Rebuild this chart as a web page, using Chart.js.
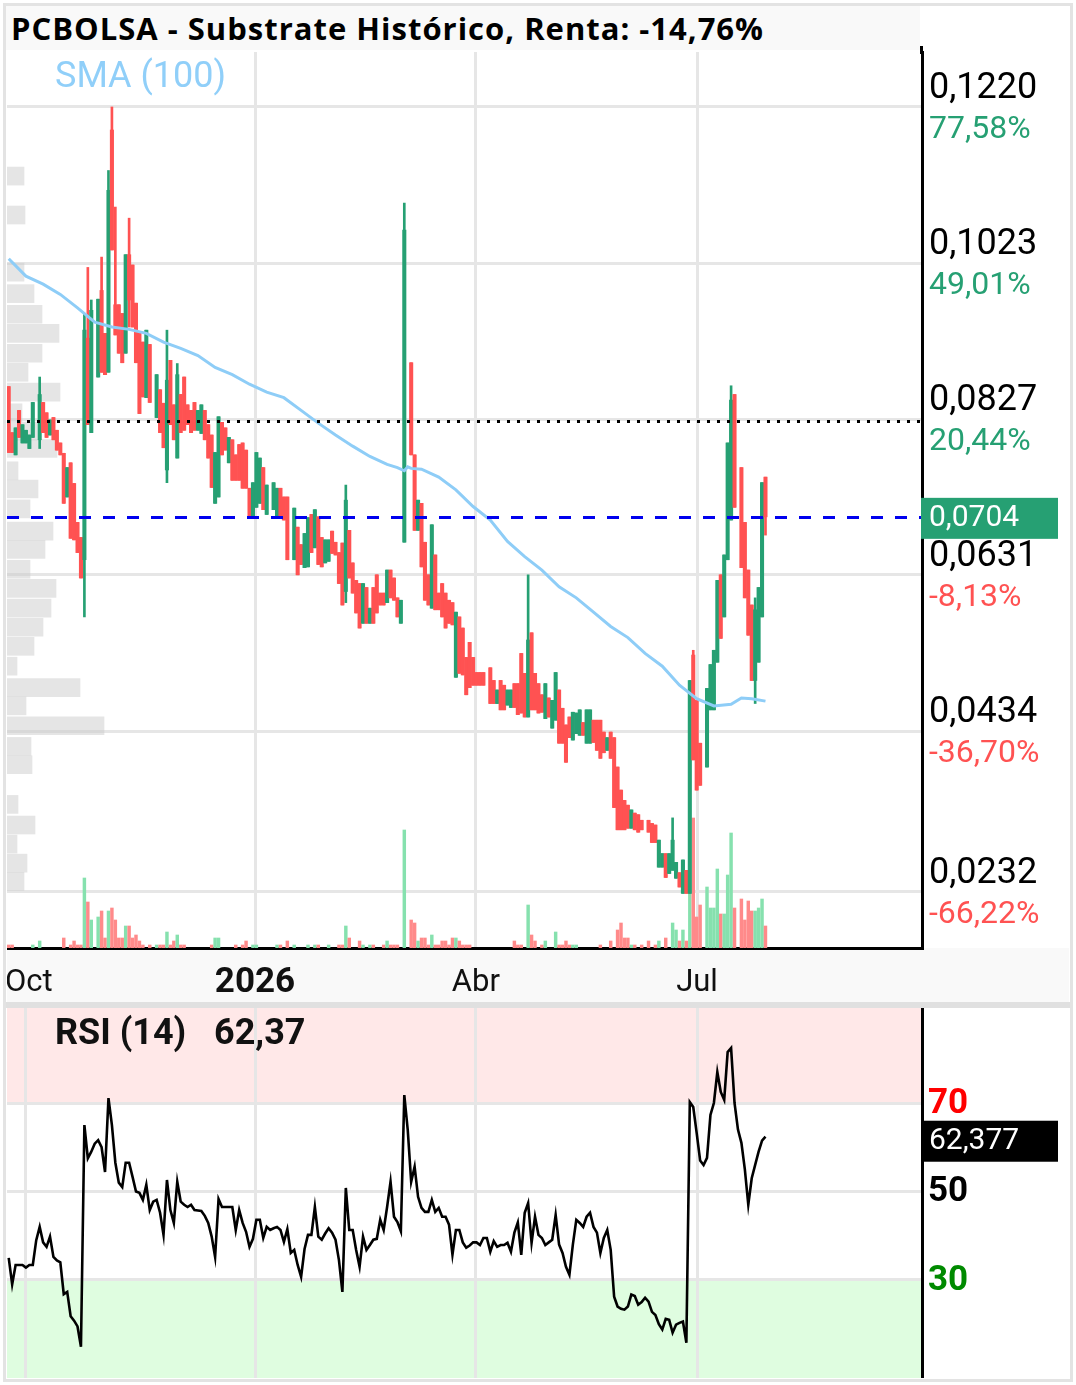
<!DOCTYPE html>
<html lang="es">
<head>
<meta charset="UTF-8">
<title>PCBOLSA - Substrate Histórico</title>
<script src="https://cdn.jsdelivr.net/npm/chart.js"></script>
<style>
  body { margin: 0; background: #fff; font-family: Roboto, sans-serif; }
  .frame { position: absolute; left: 3px; top: 3px; width: 1064px; height: 1373px; border: 3px solid #e3e3e3; }
  .title {
    position: absolute; left: 6px; top: 6px; width: 909px; height: 44px; padding-left: 5px;
    background: #f9f9f9; font: bold 31px 'Open Sans', sans-serif; letter-spacing: 1px; line-height: 44px; color: #000;
    white-space: nowrap;
  }
  .pane { position: absolute; left: 7px; width: 1062px; }
  #mainWrap { top: 50px; height: 952px; }
  #rsiWrap { top: 1008px; height: 370px; }
  .sep { position: absolute; left: 6px; top: 1002px; width: 1064px; height: 6px; background: #e0e0e0; }
  .axisTop { position: absolute; left: 920px; top: 46px; width: 3px; height: 8px; background: #000; }
</style>
</head>
<body>
<div class="frame"></div>
<div class="title">PCBOLSA - Substrate Histórico, Renta: -14,76%</div>
<div class="pane" id="mainWrap"><canvas id="main"></canvas></div>
<div class="axisTop"></div>
<div class="sep"></div>
<div class="pane" id="rsiWrap"><canvas id="rsi"></canvas></div>

<script>
// daily candles, index = trading day (first one: 24 Sep 2025), null = no trade
const open = [
  .0868,.0810,.0782,.0838,.0797,.0797,.0790,.0804,null,.0801,
  .0848,.0835,.0807,.0829,.0813,.0797,.0784,.0729,.0772,.0746,
  .0697,.0678,.0650,.0929,.0810,null,.0880,.0989,.0935,.0886,
  .1191,.0971,.0971,.0960,.0910,.1034,.1021,.0973,.0935,.0924,
  .0854,.0921,null,.0829,.0864,.0847,.0763,.0901,.0845,.0778,
  .0858,.0880,.0845,.0838,.0848,.0813,.0809,.0838,.0820,.0807,
  .0721,.0729,.0823,.0816,.0772,.0801,.0782,.0795,.0797,.0788,
  .0740,.0703,.0716,.0721,.0766,.0707,null,.0713,.0704,.0740,
  .0729,.0729,null,.0650,.0691,.0669,.0640,.0641,.0707,.0665,
  .0704,.0678,.0646,.0648,.0686,.0672,.0659,.0671,.0610,.0687,
  .0646,.0624,.0620,.0570,.0615,.0570,.0615,.0631,.0608,.0608,
  .0596,.0637,.0627,.0602,.0570,.0672,null,.0898,.0782,.0687,
  .0721,.0672,.0631,.0589,.0656,.0608,.0620,.0608,.0599,.0596,
  .0502,.0578,.0564,.0527,.0546,.0527,.0508,.0508,.0508,null,
  .0514,.0498,.0469,.0498,.0492,.0467,.0464,.0494,.0494,.0532,
  .0507,.0452,.0558,.0507,.0494,.0480,.0450,.0476,.0438,.0448,
  .0486,.0463,.0442,.0452,.0423,.0431,.0429,.0445,.0419,.0419,
  .0448,.0448,.0448,.0433,.0410,.0433,.0426,.0389,.0360,.0347,
  .0341,.0312,.0331,.0329,.0322,null,.0322,.0318,.0316,.0263,
  .0263,.0280,.0255,.0259,.0249,.0256,.0230,.0259,.0230,.0530,
  .0473,.0419,null,.0389,.0461,.0461,.0521,.0631,.0578,.0650,
  .0700,.0858,null,.0766,.0697,.0637,.0593,.0498,.0521,.0578,.0754];
const high = [
  .0868,.0810,.0816,.0838,.0820,.0813,.0807,.0848,null,.0880,
  .0848,.0835,.0826,.0829,.0813,.0797,.0784,.0766,.0772,.0746,
  .0697,.0678,.0960,.1018,.0977,null,.0978,.1031,.0935,.1140,
  .1220,.1094,.0971,.0960,.1034,.1080,.1021,.0973,.0935,.0924,
  .0939,.0921,null,.0883,.0864,.0847,.0939,.0901,.0845,.0897,
  .0858,.0880,.0845,.0838,.0848,.0838,.0845,.0838,.0820,.0807,
  .0785,.0830,.0823,.0816,.0804,.0801,.0782,.0795,.0797,.0788,
  .0740,.0747,.0785,.0778,.0766,.0744,null,.0747,.0740,.0740,
  .0729,.0729,null,.0715,.0691,.0669,.0683,.0703,.0707,.0713,
  .0704,.0678,.0675,.0675,.0686,.0672,.0659,.0671,.0744,.0687,
  .0646,.0624,.0620,.0620,.0615,.0589,.0615,.0631,.0608,.0608,
  .0637,.0637,.0627,.0602,.0599,.1099,null,.0898,.0782,.0725,
  .0721,.0672,.0631,.0694,.0656,.0608,.0620,.0608,.0599,.0596,
  .0584,.0578,.0564,.0527,.0546,.0527,.0508,.0508,.0508,null,
  .0514,.0498,.0486,.0498,.0492,.0486,.0486,.0494,.0494,.0532,
  .0507,.0631,.0558,.0507,.0494,.0480,.0494,.0476,.0473,.0508,
  .0486,.0463,.0442,.0452,.0458,.0457,.0461,.0445,.0461,.0461,
  .0448,.0448,.0448,.0433,.0426,.0433,.0426,.0389,.0360,.0347,
  .0341,.0335,.0331,.0329,.0322,null,.0322,.0318,.0316,.0297,
  .0280,.0280,.0280,.0325,.0269,.0256,.0272,.0259,.0498,.0536,
  .0473,.0419,null,.0488,.0518,.0536,.0624,.0631,.0656,.0797,
  .0869,.0858,null,.0766,.0697,.0637,.0593,.0602,.0615,.0747,.0754];
const low = [
  .0785,.0785,.0782,.0804,.0797,.0797,.0790,.0804,null,.0790,
  .0810,.0804,.0807,.0801,.0788,.0782,.0721,.0729,.0677,.0675,
  .0659,.0627,.0578,.0820,.0810,null,.0880,.0886,.0883,.0886,
  .1040,.0933,.0910,.0898,.0910,.0943,.0943,.0898,.0834,.0855,
  .0854,.0848,null,.0829,.0810,.0791,.0747,.0820,.0801,.0778,
  .0810,.0813,.0820,.0810,.0813,.0813,.0809,.0801,.0778,.0741,
  .0721,.0729,.0782,.0788,.0772,.0750,.0750,.0750,.0740,.0740,
  .0703,.0703,.0716,.0721,.0713,.0707,null,.0713,.0704,.0704,
  .0700,.0650,null,.0650,.0631,.0644,.0640,.0641,.0659,.0665,
  .0644,.0641,.0646,.0648,.0658,.0656,.0620,.0593,.0596,.0627,
  .0608,.0583,.0564,.0570,.0570,.0570,.0570,.0583,.0593,.0593,
  .0596,.0602,.0599,.0578,.0570,.0672,null,.0782,.0687,.0687,
  .0641,.0599,.0593,.0589,.0587,.0587,.0578,.0564,.0570,.0568,
  .0502,.0507,.0505,.0480,.0489,.0492,.0492,.0492,.0492,null,
  .0469,.0469,.0469,.0461,.0461,.0467,.0464,.0464,.0455,.0457,
  .0452,.0452,.0461,.0461,.0457,.0458,.0450,.0452,.0438,.0448,
  .0419,.0419,.0395,.0426,.0423,.0431,.0429,.0429,.0419,.0419,
  .0420,.0410,.0400,.0407,.0410,.0400,.0338,.0310,.0310,.0310,
  .0312,.0312,.0310,.0307,.0310,null,.0307,.0294,.0294,.0263,
  .0263,.0250,.0255,.0259,.0249,.0238,.0230,.0230,.0230,.0398,
  .0360,.0366,null,.0389,.0461,.0461,.0521,.0551,.0578,.0650,
  .0700,.0716,null,.0640,.0602,.0555,.0498,.0469,.0521,.0578,.0681];
const close = [
  .0785,.0785,.0816,.0804,.0820,.0813,.0807,.0848,null,.0858,
  .0810,.0804,.0826,.0801,.0788,.0782,.0721,.0766,.0677,.0675,
  .0659,.0627,.0939,.0820,.0964,null,.0978,.0886,.0883,.1115,
  .1040,.0933,.0910,.0898,.1034,.0977,.0943,.0898,.0834,.0855,
  .0939,.0848,null,.0883,.0810,.0791,.0876,.0820,.0801,.0883,
  .0810,.0813,.0820,.0810,.0813,.0838,.0845,.0801,.0778,.0741,
  .0785,.0830,.0782,.0788,.0804,.0750,.0750,.0750,.0740,.0740,
  .0703,.0747,.0785,.0778,.0713,.0744,null,.0747,.0740,.0704,
  .0700,.0650,null,.0715,.0631,.0644,.0683,.0703,.0659,.0713,
  .0644,.0641,.0675,.0675,.0658,.0656,.0620,.0593,.0725,.0627,
  .0608,.0583,.0564,.0620,.0570,.0589,.0570,.0583,.0593,.0593,
  .0637,.0602,.0599,.0578,.0599,.1065,null,.0782,.0687,.0725,
  .0641,.0599,.0593,.0694,.0587,.0587,.0578,.0564,.0570,.0568,
  .0584,.0507,.0505,.0480,.0489,.0492,.0492,.0492,.0492,null,
  .0469,.0469,.0486,.0461,.0461,.0486,.0486,.0464,.0455,.0457,
  .0452,.0549,.0461,.0461,.0457,.0458,.0494,.0452,.0473,.0508,
  .0419,.0419,.0395,.0426,.0458,.0457,.0461,.0429,.0461,.0461,
  .0420,.0410,.0400,.0407,.0426,.0400,.0338,.0310,.0310,.0310,
  .0312,.0335,.0310,.0307,.0310,null,.0307,.0294,.0294,.0297,
  .0280,.0250,.0280,.0297,.0269,.0238,.0272,.0230,.0498,.0398,
  .0360,.0366,null,.0488,.0518,.0536,.0624,.0551,.0656,.0797,
  .0851,.0716,null,.0640,.0602,.0555,.0498,.0587,.0615,.0747,.0704];
// shares traded per day
const volume = [
  3000,3000,0,0,0,0,0,3000,0,7000,
  0,0,0,0,0,0,10000,0,3000,7000,
  3000,3000,70000,46000,28000,0,31000,37000,10000,37000,
  40000,28000,10000,10000,22000,22000,10000,13000,7000,3000,
  0,3000,0,3000,3000,3000,16000,3000,7000,13000,
  3000,3000,0,0,0,0,0,0,0,3000,
  10000,10000,0,0,0,0,3000,0,3000,7000,
  0,3000,3000,0,0,0,0,0,3000,3000,
  0,7000,0,3000,0,0,0,3000,0,3000,
  3000,0,0,3000,0,0,3000,3000,22000,10000,
  0,0,7000,3000,0,3000,3000,0,0,3000,
  7000,3000,3000,3000,0,118000,0,28000,25000,7000,
  10000,10000,3000,13000,3000,3000,7000,7000,3000,10000,
  10000,7000,3000,3000,3000,0,0,0,0,0,
  0,0,0,0,0,0,0,7000,3000,3000,
  0,43000,13000,7000,0,3000,7000,0,0,16000,
  3000,3000,7000,3000,3000,3000,0,0,0,0,
  0,0,3000,0,0,7000,0,18000,25000,10000,
  10000,3000,3000,0,3000,0,7000,0,3000,7000,
  0,10000,0,25000,18000,7000,18000,7000,55000,130000,
  31000,43000,0,61000,40000,40000,79000,34000,34000,73000,
  115000,40000,0,49000,28000,47000,37000,37000,40000,49000,22000];
// SMA(100) read at some days
const smaIdx = [0,5,10,15,20,25,30,35,40,45,50,55,60,65,70,75,80,85,90,95,100,105,110,113,115,116,117,120,
  125,130,135,140,145,150,155,160,165,170,175,180,185,190,195,200,205,210,213,216,220];
const smaVal = [.1029,.1007,.0997,.0984,.0967,.0949,.0943,.0940,.0935,.0924,.0916,.0907,.0892,.0883,.0871,
  .0861,.0854,.0838,.0822,.0807,.0793,.0780,.0770,.0766,.0762,.0767,.0765,.0764,.0754,.0738,.0717,.0700,
  .0673,.0654,.0637,.0616,.0602,.0584,.0566,.0552,.0532,.0516,.0492,.0475,.0466,.0468,.0476,.0475,.0472];
// volume by price (left profile)
const profPrice = [.1133,.1084,.1012,.0985,.0959,.0935,.0910,.0886,.0861,.0835,.0812,.0790,.0762,.0739,.0714,
  .0686,.0663,.0638,.0614,.0589,.0565,.0541,.0516,.0489,.0466,.0441,.0415,.0392,.0342,.0316,.0292,.0268,.0245];
const profVol = [17000,18000,17000,27000,35000,52000,35000,21000,53000,15000,30000,50000,11000,31000,23000,
  46000,38000,23000,49000,44000,36000,27000,10000,73000,19000,97000,24000,25000,11000,28000,10000,20000,17000];
const rsi = [
  35,29,33.4,33.4,33.4,32.8,33.4,33.4,39,42,
  38.5,37.5,39.8,35.2,34.4,34,26.8,27.3,21.8,20.8,
  19.5,14.9,65,57.5,59,60.8,61.6,60,54.4,71.1,
  65,56.5,52,51,56.5,56.5,53.3,50,49.7,48.1,
  51.5,45.8,47.7,48.1,45.2,40.2,52.6,45.8,42.9,52.2,
  47.7,47,46.5,47,45.8,45.7,45.6,44.5,42.9,39.8,
  35.2,48.3,46.5,46.5,46.5,46.5,41.3,45.8,42.9,40.9,
  37.5,39.3,43.6,43.6,39.5,42,41.3,41.7,42,41.3,
  38.6,41.5,36.1,36.8,33.4,30.7,37,40.2,40.2,46.5,
  39.8,39.1,40.5,41.7,40.7,39.1,34.5,27.3,50.8,41.3,
  41.3,36.8,33,39.8,36.8,37.9,39.1,39.3,43.6,41.3,
  46.5,52.2,44.3,43.1,41,71.8,63.9,52.2,55.6,48.8,
  46.3,45.4,45.4,48.1,45.4,46.3,44.3,44.3,42.5,35.7,
  41.3,41.3,38.5,37.3,37.8,38.5,38.5,37.9,39.5,39.5,
  36.4,38.8,37.5,37.9,37.9,38.4,36.4,40.7,43,35.7,
  45.2,47.4,38.4,44.3,40.2,39.5,37.9,38.5,39.1,44.7,
  38,36.1,33,31.2,38,43.6,42.9,42,44.3,45.2,
  42,40.7,36.1,39.5,41.3,36.8,26.2,24,23.5,23.3,
  24,26.7,26.4,24.4,25,26,25.1,22.8,22.1,20,
  18.8,21.2,21,18.1,19.9,20.3,20.6,15.8,70.2,69.1,
  63.2,57,56,57.6,67.3,70,77,72.5,70.7,81.5,
  82.4,70,64,61,55,47,53,56,59,61.5,62.377];

const xTickPos = [5, 71.6, 135.8, 200.1];
const xTickLabels = ['Oct', '2026', 'Abr', 'Jul'];
const priceTicks = [0.1220, 0.1023, 0.0827, 0.0631, 0.0434, 0.0232];
const pctLabels = ['77,58%', '49,01%', '20,44%', '-8,13%', '-36,70%', '-66,22%'];
const lastPrice = 0.0704;
const startPrice = 0.0825;
const rsiLevels = [30, 50, 70];

const GREEN = '#26a073', RED = '#ff5252';
const VOL_GREEN = '#86e1ae', VOL_RED = '#ff8a8a';
const GRID = '#e6e6e6';
const fmt = (v, d) => v.toFixed(d).replace('.', ',');

Chart.defaults.font.family = 'Roboto';

// build bar data for the candles and the volume
const wicks = [], bodies = [], candleCol = [], vols = [], volCol = [];
for (let i = 0; i < open.length; i++) {
  if (open[i] === null) continue;
  const up = close[i] >= open[i];
  wicks.push({ x: i, y: [low[i], high[i]] });
  bodies.push({ x: i, y: [Math.min(open[i], close[i]), Math.max(open[i], close[i])] });
  candleCol.push(up ? GREEN : RED);
  if (volume[i] > 0) {
    vols.push({ x: i, y: volume[i] });
    volCol.push(up ? VOL_GREEN : VOL_RED);
  }
}

const mainDecor = {
  id: 'mainDecor',
  beforeDraw(chart) {
    const { ctx, chartArea: a, width, height } = chart;
    ctx.save();
    ctx.fillStyle = '#f9f9f9';
    ctx.fillRect(0, a.bottom, width, height - a.bottom);
    ctx.restore();
  },
  afterDatasetsDraw(chart) {
    const { ctx, chartArea: a, scales: { y } } = chart;
    ctx.save();
    ctx.lineWidth = 3;
    // starting price, dotted
    let py = Math.round(y.getPixelForValue(startPrice)) + 0.5;
    ctx.setLineDash([3, 7]);
    ctx.strokeStyle = '#000';
    ctx.beginPath(); ctx.moveTo(a.left, py); ctx.lineTo(a.right, py); ctx.stroke();
    // last price, dashed blue
    py = Math.round(y.getPixelForValue(lastPrice)) + 0.5;
    ctx.setLineDash([12, 12]);
    ctx.strokeStyle = '#0000ee';
    ctx.beginPath(); ctx.moveTo(a.left, py); ctx.lineTo(a.right, py); ctx.stroke();
    ctx.restore();
  },
  afterDraw(chart) {
    const { ctx, chartArea: a, scales: { x, y } } = chart;
    ctx.save();
    ctx.textBaseline = 'middle';
    ctx.textAlign = 'left';
    priceTicks.forEach((v, k) => {
      const py = y.getPixelForValue(v);
      ctx.font = '36px Roboto';
      ctx.fillStyle = '#000';
      ctx.fillText(fmt(v, 4), a.right + 7, py - 18);
      ctx.font = '32px Roboto';
      ctx.fillStyle = pctLabels[k][0] === '-' ? RED : GREEN;
      ctx.fillText(pctLabels[k], a.right + 7, py + 23);
    });
    // current price box
    const ly = y.getPixelForValue(lastPrice);
    ctx.fillStyle = GREEN;
    ctx.fillRect(a.right - 1, ly - 19, 137, 41);
    ctx.fillStyle = '#fff';
    ctx.font = '30px Roboto';
    ctx.fillText(fmt(lastPrice, 4), a.right + 7, ly + 2);
    // date labels
    ctx.textAlign = 'center';
    ctx.fillStyle = '#111';
    xTickPos.forEach((v, k) => {
      const txt = xTickLabels[k];
      ctx.font = txt === '2026' ? 'bold 35px Roboto' : '31px Roboto';
      const w = ctx.measureText(txt).width;
      const px = Math.max(x.getPixelForValue(v), a.left + w / 2 - 2);
      ctx.fillText(txt, px, a.bottom + 35);
    });
    // indicator legend
    ctx.textAlign = 'left';
    ctx.font = '36px Roboto';
    ctx.fillStyle = '#90cff9';
    ctx.fillText('SMA (100)', a.left + 48, a.top + 26);
    ctx.restore();
  }
};

new Chart(document.getElementById('main'), {
  type: 'bar',
  data: {
    datasets: [
      {
        type: 'line', data: smaIdx.map((v, k) => ({ x: v, y: smaVal[k] })),
        borderColor: '#8ecdf7', borderWidth: 3, pointRadius: 0, tension: 0, order: 1
      },
      { data: bodies, backgroundColor: candleCol, barThickness: 3.4, minBarLength: 1, grouped: false, order: 2 },
      { data: wicks, backgroundColor: candleCol, barThickness: 2, grouped: false, order: 3 },
      { data: vols, backgroundColor: volCol, barThickness: 2.8, grouped: false, yAxisID: 'yVol', order: 4 },
      {
        indexAxis: 'y', data: profPrice.map((p, k) => ({ x: profVol[k], y: p })),
        backgroundColor: 'rgba(200,200,200,0.48)', barThickness: 18, grouped: false,
        xAxisID: 'xProf', yAxisID: 'y', order: 5
      }
    ]
  },
  options: {
    responsive: true,
    maintainAspectRatio: false,
    animation: false,
    layout: { padding: { top: 2, left: 0, right: 0, bottom: 0 } },
    plugins: { legend: { display: false }, tooltip: { enabled: false } },
    scales: {
      x: {
        type: 'linear', min: -0.5, max: 265.5, offset: false,
        grid: { offset: false, lineWidth: 3, drawTicks: false, color: c => c.index === 0 ? 'rgba(0,0,0,0)' : GRID },
        border: { display: true, color: '#000', width: 3 },
        ticks: { display: false },
        afterBuildTicks: s => { s.ticks = xTickPos.map(v => ({ value: v })); },
        afterFit: s => { s.height = 54; }
      },
      y: {
        type: 'linear', position: 'right', min: 0.01612, max: 0.12892, offset: false,
        grid: { offset: false, lineWidth: 3, drawTicks: false, color: GRID },
        border: { display: true, color: '#000', width: 3 },
        ticks: { display: false },
        afterBuildTicks: s => { s.ticks = priceTicks.map(v => ({ value: v })); },
        afterFit: s => { s.width = 147; }
      },
      yVol: { type: 'linear', display: false, min: 0, max: 896000 },
      xProf: { type: 'linear', display: false, min: 0, max: 915000, offset: false }
    }
  },
  plugins: [mainDecor]
});

const rsiDecor = {
  id: 'rsiDecor',
  beforeDraw(chart) {
    const { ctx, chartArea: a, scales: { y } } = chart;
    const y70 = y.getPixelForValue(70), y30 = y.getPixelForValue(30);
    ctx.save();
    ctx.fillStyle = '#ffe8e8';
    ctx.fillRect(a.left, a.top, a.right - a.left, y70 - a.top);
    ctx.fillStyle = '#dffde0';
    ctx.fillRect(a.left, y30, a.right - a.left, a.bottom - y30);
    ctx.restore();
  },
  afterDraw(chart) {
    const { ctx, chartArea: a, scales: { y } } = chart;
    const last = rsi[rsi.length - 1];
    ctx.save();
    ctx.textBaseline = 'middle';
    ctx.textAlign = 'left';
    const levelCol = ['#008a00', '#000', '#ff0000'];
    rsiLevels.forEach((v, k) => {
      ctx.font = 'bold 35px Roboto';
      ctx.fillStyle = levelCol[k];
      ctx.fillText(String(v), a.right + 6, y.getPixelForValue(v) + 1);
    });
    const py = y.getPixelForValue(last);
    ctx.fillStyle = '#000';
    ctx.fillRect(a.right - 1, py - 16, 137, 41);
    ctx.fillStyle = '#fff';
    ctx.font = '30px Roboto';
    ctx.fillText(fmt(last, 3), a.right + 7, py + 5);
    ctx.fillStyle = '#111';
    ctx.font = 'bold 36px Roboto';
    ctx.fillText('RSI (14)', a.left + 48, a.top + 27);
    ctx.fillText(fmt(Math.floor(last * 100) / 100, 2), a.left + 207, a.top + 27);
    ctx.restore();
  }
};

new Chart(document.getElementById('rsi'), {
  type: 'line',
  data: {
    datasets: [{
      data: rsi.map((v, i) => ({ x: i, y: v })),
      borderColor: '#000', borderWidth: 2.6, pointRadius: 0, tension: 0
    }]
  },
  options: {
    responsive: true,
    maintainAspectRatio: false,
    animation: false,
    layout: { padding: 0 },
    plugins: { legend: { display: false }, tooltip: { enabled: false } },
    scales: {
      x: {
        type: 'linear', min: -0.5, max: 265.5, offset: false,
        grid: { lineWidth: 3, drawTicks: false, color: GRID },
        border: { display: false },
        ticks: { display: false },
        afterBuildTicks: s => { s.ticks = xTickPos.map(v => ({ value: v })); },
        afterFit: s => { s.height = 0; }
      },
      y: {
        type: 'linear', position: 'right', min: 7.85, max: 91.47,
        grid: { lineWidth: 3, drawTicks: false, color: GRID },
        border: { display: true, color: '#000', width: 3 },
        ticks: { display: false },
        afterBuildTicks: s => { s.ticks = rsiLevels.map(v => ({ value: v })); },
        afterFit: s => { s.width = 147; }
      }
    }
  },
  plugins: [rsiDecor]
});
</script>
</body>
</html>
